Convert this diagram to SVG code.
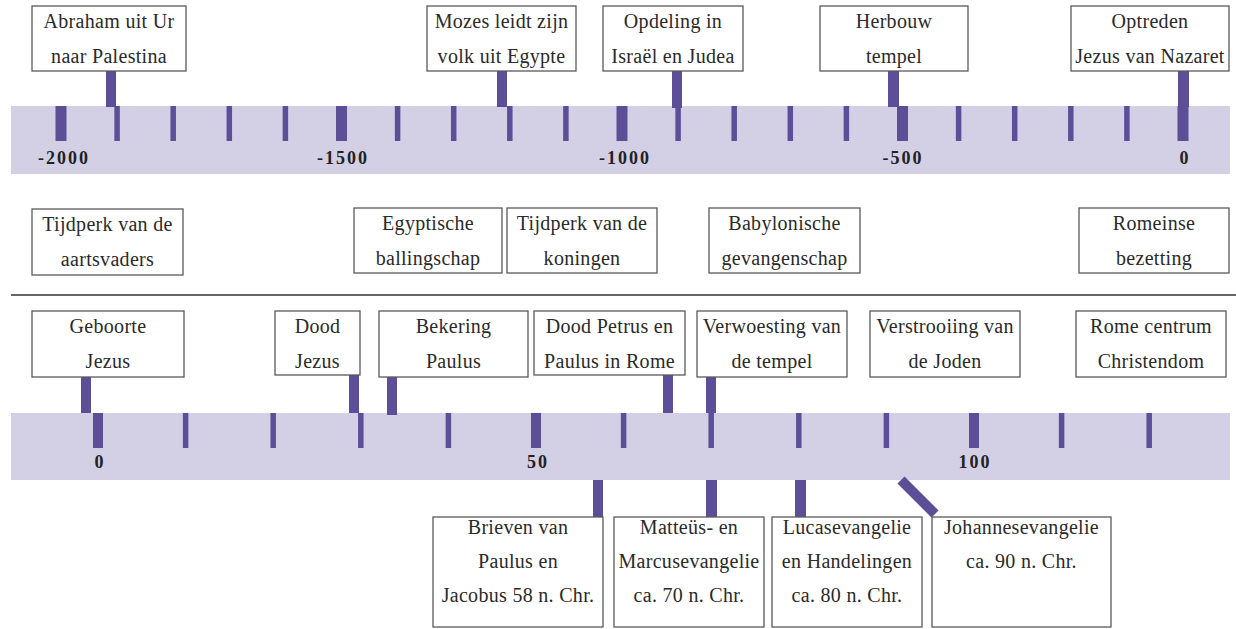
<svg xmlns="http://www.w3.org/2000/svg" width="1236" height="629" viewBox="0 0 1236 629">
<style>
.band{fill:#d3d0e6}
.tk{fill:#5d4f97}
.cn{fill:#5d4f97}
.box{fill:#ffffff;stroke:#5a5a5a;stroke-width:1.3}
.t{font-family:"Liberation Serif","Times New Roman",serif;font-size:20px;fill:#2a2a2a;text-anchor:middle;letter-spacing:0.3px}
.n{font-family:"Liberation Serif","Times New Roman",serif;font-size:18px;font-weight:bold;fill:#222;text-anchor:middle;letter-spacing:2px}
</style>
<rect width="1236" height="629" fill="#ffffff"/>
<g id="axis-top">
<rect class="band" x="11" y="106" width="1219" height="68"/>
<rect class="tk" x="55.5" y="106" width="11" height="35"/>
<rect class="tk" x="114.35" y="106" width="5.5" height="35"/>
<rect class="tk" x="170.45" y="106" width="5.5" height="35"/>
<rect class="tk" x="226.55" y="106" width="5.5" height="35"/>
<rect class="tk" x="282.65" y="106" width="5.5" height="35"/>
<rect class="tk" x="336" y="106" width="11" height="35"/>
<rect class="tk" x="394.85" y="106" width="5.5" height="35"/>
<rect class="tk" x="450.95" y="106" width="5.5" height="35"/>
<rect class="tk" x="507.05" y="106" width="5.5" height="35"/>
<rect class="tk" x="563.15" y="106" width="5.5" height="35"/>
<rect class="tk" x="616.5" y="106" width="11" height="35"/>
<rect class="tk" x="675.35" y="106" width="5.5" height="35"/>
<rect class="tk" x="731.45" y="106" width="5.5" height="35"/>
<rect class="tk" x="787.55" y="106" width="5.5" height="35"/>
<rect class="tk" x="843.65" y="106" width="5.5" height="35"/>
<rect class="tk" x="897" y="106" width="11" height="35"/>
<rect class="tk" x="955.85" y="106" width="5.5" height="35"/>
<rect class="tk" x="1011.95" y="106" width="5.5" height="35"/>
<rect class="tk" x="1068.05" y="106" width="5.5" height="35"/>
<rect class="tk" x="1124.15" y="106" width="5.5" height="35"/>
<rect class="tk" x="1177.5" y="106" width="11" height="35"/>
<text class="n" x="64" y="164">-2000</text>
<text class="n" x="343" y="164">-1500</text>
<text class="n" x="625" y="164">-1000</text>
<text class="n" x="903" y="164">-500</text>
<text class="n" x="1185" y="164">0</text>
</g>
<g id="axis-bottom">
<rect class="band" x="11" y="413" width="1219" height="67"/>
<rect class="tk" x="93" y="413" width="10" height="35"/>
<rect class="tk" x="182.85" y="413" width="5.5" height="35"/>
<rect class="tk" x="270.45" y="413" width="5.5" height="35"/>
<rect class="tk" x="358.05" y="413" width="5.5" height="35"/>
<rect class="tk" x="445.65" y="413" width="5.5" height="35"/>
<rect class="tk" x="531" y="413" width="10" height="35"/>
<rect class="tk" x="620.85" y="413" width="5.5" height="35"/>
<rect class="tk" x="708.45" y="413" width="5.5" height="35"/>
<rect class="tk" x="796.05" y="413" width="5.5" height="35"/>
<rect class="tk" x="883.65" y="413" width="5.5" height="35"/>
<rect class="tk" x="969" y="413" width="10" height="35"/>
<rect class="tk" x="1058.85" y="413" width="5.5" height="35"/>
<rect class="tk" x="1146.45" y="413" width="5.5" height="35"/>
<text class="n" x="100" y="468">0</text>
<text class="n" x="538" y="468">50</text>
<text class="n" x="975" y="468">100</text>
</g>
<line id="divider" x1="11" y1="295" x2="1236" y2="295" stroke="#333" stroke-width="1.5"/>
<g id="connectors">
<rect class="cn" x="106" y="71" width="10" height="36"/>
<rect class="cn" x="497" y="71" width="10" height="36"/>
<rect class="cn" x="672" y="71" width="10" height="37"/>
<rect class="cn" x="888" y="71" width="11" height="36"/>
<rect class="cn" x="1178" y="71" width="11" height="36"/>
<rect class="cn" x="81" y="377" width="10" height="36"/>
<rect class="cn" x="349" y="375" width="10" height="38"/>
<rect class="cn" x="387" y="377" width="10" height="38"/>
<rect class="cn" x="663" y="375" width="10" height="38"/>
<rect class="cn" x="706" y="377" width="10" height="36"/>
<rect class="cn" x="593" y="480" width="10" height="37"/>
<rect class="cn" x="706" y="480" width="11" height="37"/>
<rect class="cn" x="795" y="480" width="11" height="37"/>
<line x1="901" y1="480" x2="935" y2="514" stroke="#5d4f97" stroke-width="10"/>
</g>
<g id="abraham"><rect class="box" x="32" y="6" width="154" height="65"/><text class="t" x="109" y="28">Abraham uit Ur</text><text class="t" x="109" y="63">naar Palestina</text></g>
<g id="mozes"><rect class="box" x="427" y="6" width="149" height="65"/><text class="t" x="501.5" y="28">Mozes leidt zijn</text><text class="t" x="501.5" y="63">volk uit Egypte</text></g>
<g id="opdeling"><rect class="box" x="603" y="6" width="140" height="65"/><text class="t" x="673" y="28">Opdeling in</text><text class="t" x="673" y="63">Israël en Judea</text></g>
<g id="herbouw"><rect class="box" x="820" y="6" width="148" height="65"/><text class="t" x="894" y="28">Herbouw</text><text class="t" x="894" y="63">tempel</text></g>
<g id="optreden"><rect class="box" x="1071" y="6" width="158" height="65"/><text class="t" x="1150" y="28">Optreden</text><text class="t" x="1150" y="63">Jezus van Nazaret</text></g>
<g id="aartsvaders"><rect class="box" x="32" y="209" width="151" height="66"/><text class="t" x="107.5" y="231">Tijdperk van de</text><text class="t" x="107.5" y="266">aartsvaders</text></g>
<g id="egyptische"><rect class="box" x="354" y="208" width="148" height="65"/><text class="t" x="428" y="230">Egyptische</text><text class="t" x="428" y="265">ballingschap</text></g>
<g id="koningen"><rect class="box" x="507" y="208" width="150" height="65"/><text class="t" x="582" y="230">Tijdperk van de</text><text class="t" x="582" y="265">koningen</text></g>
<g id="babylonische"><rect class="box" x="709" y="208" width="151" height="65"/><text class="t" x="784.5" y="230">Babylonische</text><text class="t" x="784.5" y="265">gevangenschap</text></g>
<g id="romeinse"><rect class="box" x="1079" y="208" width="150" height="65"/><text class="t" x="1154" y="230">Romeinse</text><text class="t" x="1154" y="265">bezetting</text></g>
<g id="geboorte"><rect class="box" x="32" y="311" width="152" height="66"/><text class="t" x="108" y="333">Geboorte</text><text class="t" x="108" y="368">Jezus</text></g>
<g id="dood-jezus"><rect class="box" x="275" y="311" width="85" height="64"/><text class="t" x="317.5" y="333">Dood</text><text class="t" x="317.5" y="368">Jezus</text></g>
<g id="bekering"><rect class="box" x="379" y="311" width="149" height="66"/><text class="t" x="453.5" y="333">Bekering</text><text class="t" x="453.5" y="368">Paulus</text></g>
<g id="dood-petrus"><rect class="box" x="534" y="311" width="151" height="64"/><text class="t" x="609.5" y="333">Dood Petrus en</text><text class="t" x="609.5" y="368">Paulus in Rome</text></g>
<g id="verwoesting"><rect class="box" x="697" y="311" width="150" height="66"/><text class="t" x="772" y="333">Verwoesting van</text><text class="t" x="772" y="368">de tempel</text></g>
<g id="verstrooiing"><rect class="box" x="870" y="311" width="150" height="66"/><text class="t" x="945" y="333">Verstrooiing van</text><text class="t" x="945" y="368">de Joden</text></g>
<g id="rome"><rect class="box" x="1076" y="311" width="150" height="66"/><text class="t" x="1151" y="333">Rome centrum</text><text class="t" x="1151" y="368">Christendom</text></g>
<g id="brieven"><rect class="box" x="433" y="517" width="170" height="110"/><text class="t" x="518" y="534">Brieven van</text><text class="t" x="518" y="568">Paulus en</text><text class="t" x="518" y="602">Jacobus 58 n. Chr.</text></g>
<g id="matteus"><rect class="box" x="614" y="517" width="150" height="110"/><text class="t" x="689" y="534">Matteüs- en</text><text class="t" x="689" y="568">Marcusevangelie</text><text class="t" x="689" y="602">ca. 70 n. Chr.</text></g>
<g id="lucas"><rect class="box" x="772" y="517" width="150" height="110"/><text class="t" x="847" y="534">Lucasevangelie</text><text class="t" x="847" y="568">en Handelingen</text><text class="t" x="847" y="602">ca. 80 n. Chr.</text></g>
<g id="johannes"><rect class="box" x="932" y="517" width="179" height="110"/><text class="t" x="1021.5" y="534">Johannesevangelie</text><text class="t" x="1021.5" y="568">ca. 90 n. Chr.</text></g>
</svg>
